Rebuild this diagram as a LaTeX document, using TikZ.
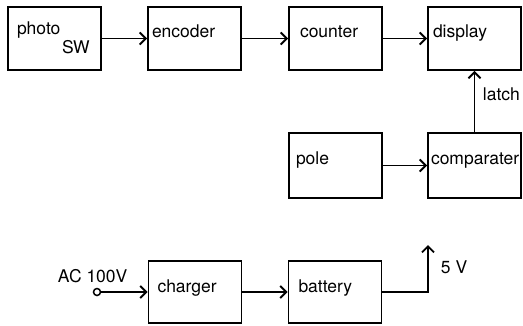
\documentclass[tikz,border=0pt]{standalone}
\usepackage{fontspec}
\setmainfont{TeX Gyre Heros}
\usetikzlibrary{arrows.meta, positioning, calc}

\begin{document}
\begin{tikzpicture}[x=1pt, y=-1pt, line width=1.9pt,
  every node/.style={font=\fontsize{17.5}{20}\selectfont},
  blk/.style={draw, minimum width=93pt, minimum height=63pt, inner sep=0pt},
  lbl/.style={anchor=base west, inner sep=0pt},
  sig/.style={-{Straight Barb[length=6pt, width=12pt]}}]
  \useasboundingbox (0,0) rectangle (523,325);
  % --- counting chain ------------------------------------------------
  \node[blk] (photo) at (54.5, 38.5) {};
  \node[blk] (enc)   at (194.5, 38.5) {};
  \node[blk] (cnt)   at (335.5, 38.5) {};
  \node[blk] (disp)  at (474.5, 38.5) {};
  \node[lbl] (photoL) at ($(photo.north west)+(9,28)$) {photo};
  \node[lbl] (swL)    at ($(photo.north west)+(54,47)$) {SW};
  \node[lbl] (encL)   at ($(enc.north west)+(4,31)$) {encoder};
  \node[lbl] (cntL)   at ($(cnt.north west)+(11,31)$) {counter};
  \node[lbl] (dispL)  at ($(disp.north west)+(5,31)$) {display};
  \draw[sig] (photo.east) -- (enc.west);
  \draw[sig] (enc.east) -- (cnt.west);
  \draw[sig] (cnt.east) -- (disp.west);
  % --- pole and comparater -------------------------------------------
  \node[blk, minimum height=65pt] (pole) at (335.5, 165.5) {};
  \node[blk, minimum height=65pt] (comp) at (474.5, 165.5) {};
  \node[lbl] (poleL) at ($(pole.north west)+(7,32)$) {pole};
  \node[lbl] (compL) at ($(comp.north west)+(3,32)$) {comparater};
  \draw[sig] (pole.east) -- (comp.west);
  \draw[sig] (comp.north) -- (disp.south);
  \node[lbl] (latchL) at (482, 100) {latch};
  % --- power supply --------------------------------------------------
  \node[blk, minimum height=62pt] (chg)  at (195, 292) {};
  \node[blk, minimum height=62pt] (batt) at (335, 292) {};
  \node[lbl] (chgL)  at ($(chg.north west)+(9,32)$) {charger};
  \node[lbl] (battL) at ($(batt.north west)+(10,32)$) {battery};
  \node[circle, draw, minimum size=7pt, inner sep=0pt, line width=1.5pt] (ac) at (97, 292) {};
  \node[lbl] (acL) at (57, 282) {AC 100V};
  \coordinate (vout) at (428, 245);
  \node[lbl] (voutL) at (440, 273) {5 V};
  \draw[sig] (ac.east) -- (chg.west);
  \draw[sig] (chg.east) -- (batt.west);
  \draw[sig] (batt.east) -| (vout);
\end{tikzpicture}
\end{document}
